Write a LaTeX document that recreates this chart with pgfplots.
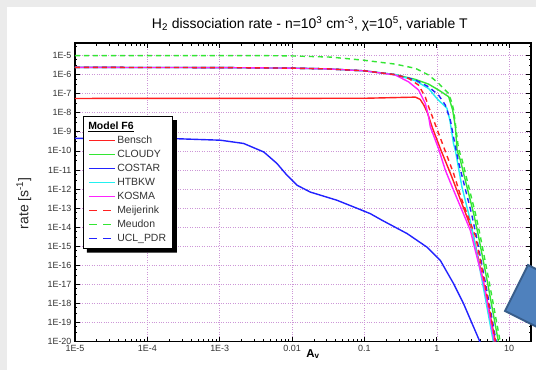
\documentclass[border=0pt]{standalone}
\usepackage{fontspec}
\setmainfont{Liberation Sans}
\usepackage{pgfplots}
\pgfplotsset{compat=1.18}
\definecolor{cred}{HTML}{FF2020}
\definecolor{cgreen}{HTML}{33E633}
\definecolor{cblue}{HTML}{2222FF}
\definecolor{ccyan}{HTML}{22F0F0}
\definecolor{cmag}{HTML}{FF22FF}
\definecolor{gridc}{RGB}{205,150,215}
\definecolor{tickc}{HTML}{333333}
\definecolor{shapefill}{HTML}{4F81BD}
\definecolor{shapedraw}{HTML}{385D8A}
\begin{document}
\begin{tikzpicture}
\path[use as bounding box] (-75bp,-28.5bp) rectangle (461bp,341.5bp);
\fill[black!8] (-75bp,-28.5bp) rectangle (461bp,341.5bp);
\fill[white] (-68bp,-28.5bp) rectangle (461bp,334.5bp);
\begin{axis}[
  at={(0bp,0bp)}, anchor=south west,
  scale only axis, width=456bp, height=298.2bp,
  xmode=log, ymode=log,
  xmin=1e-5, xmax=20, ymin=1e-20, ymax=4.4e-5,
  xtick={1e-5,1e-4,1e-3,1e-2,1e-1,1,10},
  xticklabels={1E-5,1E-4,1E-3,0.01,0.1,1,10},
  minor xtick={2e-5,3e-5,4e-5,5e-5,6e-5,7e-5,8e-5,9e-5,
    2e-4,3e-4,4e-4,5e-4,6e-4,7e-4,8e-4,9e-4,
    2e-3,3e-3,4e-3,5e-3,6e-3,7e-3,8e-3,9e-3,
    2e-2,3e-2,4e-2,5e-2,6e-2,7e-2,8e-2,9e-2,
    0.2,0.3,0.4,0.5,0.6,0.7,0.8,0.9,
    2,3,4,5,6,7,8,9},
  ytick={1e-20,1e-19,1e-18,1e-17,1e-16,1e-15,1e-14,1e-13,1e-12,1e-11,1e-10,1e-9,1e-8,1e-7,1e-6,1e-5},
  yticklabels={1E-20,1E-19,1E-18,1E-17,1E-16,1E-15,1E-14,1E-13,1E-12,1E-11,1E-10,1E-9,1E-8,1E-7,1E-6,1E-5},
  minor ytick={3e-20,6e-20,3e-19,6e-19,3e-18,6e-18,3e-17,6e-17,3e-16,6e-16,3e-15,6e-15,3e-14,6e-14,
    3e-13,6e-13,3e-12,6e-12,3e-11,6e-11,3e-10,6e-10,3e-9,6e-9,3e-8,6e-8,3e-7,6e-7,3e-6,6e-6,3e-5},
  grid=major,
  major grid style={gridc, dotted, line width=0.6bp},
  tick align=inside,
  major tick length=5bp, minor tick length=2.5bp,
  every tick/.style={black, line width=0.7bp},
  axis line style={line width=1.6bp},
  tick label style={font=\fontsize{9}{10}\selectfont, text=tickc},
  title={H\textsubscript{2} dissociation rate - n=10\textsuperscript{3} cm\textsuperscript{-3}, χ=10\textsuperscript{5}, variable T},
  title style={at={(axis description cs:0.515,1)}, anchor=base, yshift=9bp, font=\fontsize{14}{16}\selectfont, text=black},
  xlabel={\textbf{A}\textsubscript{\textbf{v}}},
  xlabel style={at={(axis description cs:0.522,0)}, anchor=center, yshift=-12.5bp, font=\fontsize{11.5}{13}\selectfont},
  ylabel={rate [s\textsuperscript{-1}]},
  ylabel style={at={(axis description cs:-0.112,0.464)}, anchor=center, font=\fontsize{14}{16}\selectfont, text=black!85},
  legend cell align=left,
  legend image code/.code={\draw[#1] (0bp,0bp) -- (26bp,0bp);},
  legend style={name=leg, at={(axis description cs:0.0175,0.756)}, anchor=north west,
    draw=black, line width=0.6bp, fill=white,
    font=\fontsize{10.5}{12}\selectfont, text=tickc,
    inner xsep=5bp, inner ysep=3bp, row sep=0bp,
    nodes={inner sep=1.5bp, text height=8.5bp, text depth=2.5bp}},
]
% Bensch
\addplot[cred, line width=1.4bp, forget plot] coordinates {
(1e-5,5.62e-8)(0.1,5.75e-8)(0.505,6.61e-8)(0.589,5.01e-8)(0.661,2.51e-8)(0.741,1e-8)(0.871,1.58e-9)(1.122,1.26e-10)(1.585,5.01e-12)(2.239,1.58e-13)(3.090,6.31e-15)(4.467,1e-17)(6.457,1e-20)};
% CLOUDY
\addplot[cgreen, line width=1.4bp, forget plot] coordinates {
(1e-5,2.40e-6)(1e-3,2.34e-6)(0.01,2.19e-6)(0.0316,2.0e-6)(0.1,1.58e-6)(0.267,1.0e-6)(0.505,5.62e-7)(0.771,3.16e-7)(1.059,1.55e-7)(1.455,6.92e-8)(1.656,1.38e-8)(1.803,1.82e-9)(1.905,1.07e-10)(2.113,3.24e-11)(2.612,1.26e-12)(3.228,5.13e-14)(3.784,3.02e-15)(5.012,1.26e-17)(7.079,1e-20)};
% COSTAR
\addplot[cblue, line width=1.4bp, forget plot] coordinates {
(1e-5,4.57e-10)(2.04e-4,4.47e-10)(1.02e-3,3.63e-10)(2.14e-3,2.45e-10)(4.07e-3,8.71e-11)(6.17e-3,2.19e-11)(8.51e-3,5.25e-12)(0.0117,1.58e-12)(0.0178,6.92e-13)(0.0417,2.57e-13)(0.120,5.13e-14)(0.175,2.29e-14)(0.389,4.57e-15)(0.731,8.91e-16)(1.119,1.78e-16)(1.706,1.07e-17)(2.344,9.55e-19)(3.228,5.62e-20)(3.784,1.38e-20)(4.25,5e-21)};
% HTBKW
\addplot[ccyan, line width=1.4bp, forget plot] coordinates {
(1e-5,2.40e-6)(1e-3,2.34e-6)(0.01,2.19e-6)(0.0316,2.0e-6)(0.1,1.58e-6)(0.267,1.0e-6)(0.505,4.79e-7)(0.771,1.86e-7)(1.0,5.62e-8)(1.175,3.09e-8)(1.380,1.70e-8)(1.514,4.07e-9)(1.698,2.45e-10)(1.803,1.07e-10)(2.223,1.26e-12)(2.748,5.13e-14)(3.221,3.02e-15)(4.266,1.26e-17)(6.026,1e-20)};
% KOSMA
\addplot[cmag, line width=1.4bp, forget plot] coordinates {
(1e-5,2.40e-6)(1e-3,2.34e-6)(0.01,2.19e-6)(0.0316,2.0e-6)(0.1,1.58e-6)(0.267,9.55e-7)(0.407,4.17e-7)(0.560,1.55e-7)(0.692,3.09e-8)(0.771,6.03e-9)(0.813,1.82e-9)(0.904,6.31e-10)(1.059,1.26e-10)(1.312,9.55e-12)(1.706,8.51e-13)(2.228,7.59e-14)(2.904,6.76e-15)(3.388,6.31e-16)(4.416,1.26e-17)(6.237,1e-20)};
% UCL_PDR
\addplot[cblue, line width=1.4bp, dash pattern=on 5bp off 4bp, forget plot] coordinates {
(1e-5,2.40e-6)(1e-3,2.34e-6)(0.01,2.19e-6)(0.0316,2.0e-6)(0.1,1.58e-6)(0.267,1.0e-6)(0.505,5.25e-7)(0.771,2.29e-7)(1.059,8.32e-8)(1.312,2.51e-8)(1.538,4.07e-9)(1.706,5.01e-10)(1.995,2.51e-11)(2.438,1.26e-12)(3.013,5.13e-14)(3.532,3.02e-15)(4.677,1.26e-17)(6.607,1e-20)};
% Meudon
\addplot[cgreen, line width=1.4bp, dash pattern=on 5bp off 4bp, forget plot] coordinates {
(1e-5,1e-5)(3.16e-3,1e-5)(0.01,9.55e-6)(0.0339,8.32e-6)(0.0955,5.75e-6)(0.267,3.55e-6)(0.505,2.14e-6)(0.771,9.55e-7)(1.059,3.47e-7)(1.455,1.02e-7)(1.622,3.09e-8)(1.706,1.38e-8)(1.862,1e-9)(1.995,1.26e-10)(2.239,3.24e-11)(2.767,1.26e-12)(3.420,5.13e-14)(4.009,3.02e-15)(5.309,1.26e-17)(7.499,1e-20)};
% Meijerink
\addplot[cred, line width=1.4bp, dash pattern=on 5bp off 4bp, forget plot] coordinates {
(1e-5,2.40e-6)(1e-3,2.34e-6)(0.01,2.19e-6)(0.0316,2.0e-6)(0.1,1.58e-6)(0.267,1.0e-6)(0.407,6.31e-7)(0.560,2.82e-7)(0.692,6.76e-8)(0.771,2.04e-8)(0.904,4.07e-9)(1.059,8.13e-10)(1.242,1.62e-10)(1.706,6.46e-12)(2.228,2.57e-13)(3.062,1e-14)(3.451,3.02e-15)(4.571,1.26e-17)(6.457,1e-20)};
% legend
\addlegendimage{empty legend}
\addlegendentry{\hspace*{-29bp}\textcolor{black}{\textbf{\underline{Model F6}}}}
\addlegendimage{cred, line width=1.5bp}
\addlegendentry{Bensch}
\addlegendimage{cgreen, line width=1.5bp}
\addlegendentry{CLOUDY}
\addlegendimage{cblue, line width=1.5bp}
\addlegendentry{COSTAR}
\addlegendimage{ccyan, line width=1.5bp}
\addlegendentry{HTBKW}
\addlegendimage{cmag, line width=1.5bp}
\addlegendentry{KOSMA}
\addlegendimage{cred, line width=1.5bp, dash pattern=on 8bp off 6bp}
\addlegendentry{Meijerink}
\addlegendimage{cgreen, line width=1.5bp, dash pattern=on 8bp off 6bp}
\addlegendentry{Meudon}
\addlegendimage{cblue, line width=1.5bp, dash pattern=on 8bp off 6bp}
\addlegendentry{UCL\_PDR}
\end{axis}
\fill[black] ([yshift=-4bp]leg.north east) -- ([xshift=4bp,yshift=-4bp]leg.north east)
  -- ([xshift=4bp,yshift=-4bp]leg.south east) -- ([xshift=4bp,yshift=-4bp]leg.south west)
  -- ([xshift=4bp]leg.south west) -- (leg.south east) -- cycle;
\begin{scope}
\clip (-75bp,-28.5bp) rectangle (461bp,341.5bp);
\filldraw[fill=shapefill, draw=shapedraw, line width=1.8bp] (430bp,30.5bp) -- (453bp,76.5bp) -- (513bp,46.5bp) -- (490bp,0.5bp) -- cycle;
\end{scope}
\end{tikzpicture}
\end{document}
